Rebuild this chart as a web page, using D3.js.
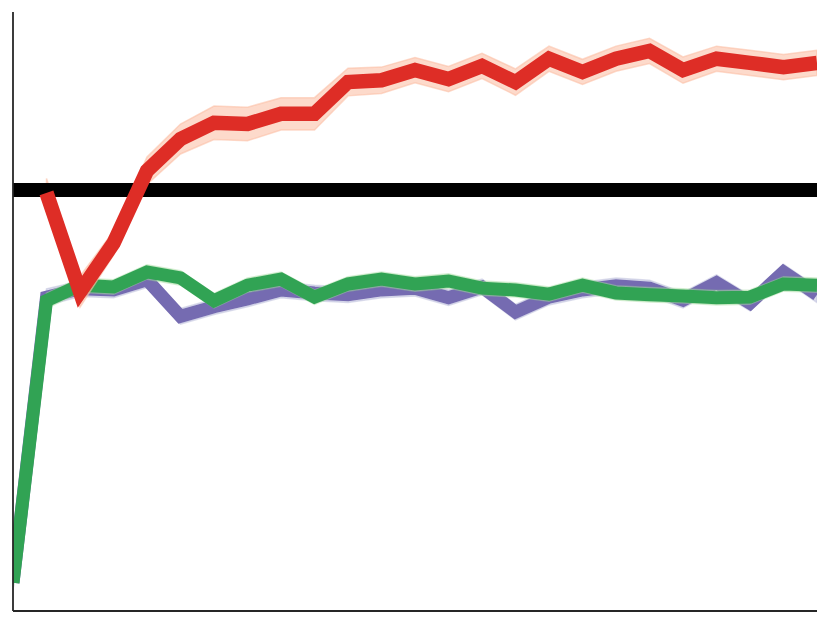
<!DOCTYPE html>
<html>
<head>
<meta charset="utf-8">
<script src="https://cdn.jsdelivr.net/npm/d3@7"></script>
<style>
  html, body { margin: 0; padding: 0; background: #fff; }
  svg { display: block; }
</style>
</head>
<body>
<svg id="chart" width="830" height="625"></svg>
<script>
// ---- data ----
const steps = d3.range(0, 25);
const baseline = 70.3;
const redMean = [null, 69.8, 53.3, 61.4, 73.5, 78.8, 81.5, 81.3, 83.0, 83.0, 88.3, 88.6, 90.3, 88.8, 91.0, 88.3, 92.2, 90.0, 92.2, 93.5, 90.3, 92.2, 91.5, 90.8, 91.5];
const redCI   = [null, 2.4, 2.6, 2.0, 2.3, 2.5, 2.8, 2.8, 2.7, 2.7, 2.3, 2.2, 2.1, 2.1, 2.1, 2.2, 2.1, 2.1, 2.1, 2.1, 2.2, 2.1, 2.1, 2.1, 2.1];
const purpleMean = [4.7, 52.4, 53.8, 53.6, 55.3, 49.2, 50.8, 52.1, 53.6, 53.1, 52.8, 53.6, 53.9, 52.3, 54.1, 49.9, 52.4, 53.6, 54.3, 53.9, 51.9, 54.8, 51.4, 56.6, 52.8];
const purpleCI   = [1.2, 1.4, 1.3, 1.3, 1.3, 1.3, 1.3, 1.3, 1.3, 1.3, 1.3, 1.3, 1.3, 1.3, 1.3, 1.3, 1.3, 1.3, 1.3, 1.3, 1.3, 1.3, 1.3, 1.3, 1.3];
const greenMean = [4.7, 51.8, 54.4, 54.1, 56.6, 55.6, 51.8, 54.4, 55.4, 52.4, 54.6, 55.4, 54.6, 55.1, 53.9, 53.6, 52.9, 54.4, 53.1, 52.8, 52.6, 52.3, 52.4, 54.6, 54.4];
const greenCI   = [1.2, 1.3, 1.2, 1.2, 1.2, 1.2, 1.2, 1.2, 1.2, 1.2, 1.2, 1.2, 1.2, 1.2, 1.2, 1.2, 1.2, 1.2, 1.2, 1.2, 1.2, 1.2, 1.2, 1.2, 1.2];

// ---- layout ----
const svg = d3.select("#chart");
const pLeft = 13, pRight = 817, pTop = 12, pBottom = 611;
const x = d3.scaleLinear().domain([0, 24]).range([pLeft, pRight]);
const y = d3.scaleLinear().domain([0, 100]).range([pBottom, pBottom - 599]);

svg.append("defs").append("clipPath").attr("id", "plotclip")
  .append("rect").attr("x", pLeft).attr("y", pTop).attr("width", pRight - pLeft).attr("height", pBottom - pTop);

const plot = svg.append("g").attr("clip-path", "url(#plotclip)");

function seriesData(mean, ci) {
  return steps.map(i => ({ i, m: mean[i], c: ci[i] })).filter(d => d.m != null);
}

const line = d3.line().x(d => x(d.i)).y(d => y(d.m));
const area = d3.area().x(d => x(d.i)).y0(d => y(d.m - d.c)).y1(d => y(d.m + d.c));

function drawBand(mean, ci, bandColor, bandOpacity) {
  plot.append("path").datum(seriesData(mean, ci)).attr("d", area)
    .attr("fill", bandColor).attr("fill-opacity", bandOpacity)
    .attr("stroke", bandColor).attr("stroke-opacity", bandOpacity).attr("stroke-width", 1.5);
}
function drawLine(mean, ci, color, width) {
  plot.append("path").datum(seriesData(mean, ci)).attr("d", line)
    .attr("fill", "none").attr("stroke", color).attr("stroke-width", width)
    .attr("stroke-linejoin", "miter").attr("stroke-miterlimit", 10).attr("stroke-linecap", "butt");
}

drawBand(purpleMean, purpleCI, "#bcbddc", 0.5);
drawLine(purpleMean, purpleCI, "#756bb1", 13);
drawBand(greenMean, greenCI, "#a1d99b", 0.4);
drawLine(greenMean, greenCI, "#31a354", 13);
drawBand(redMean, redCI, "#fcbba1", 0.55);

// baseline
plot.append("line")
  .attr("x1", x(0)).attr("x2", x(24))
  .attr("y1", y(baseline)).attr("y2", y(baseline))
  .attr("stroke", "#000").attr("stroke-width", 14);

drawLine(redMean, redCI, "#de2d26", 14.5);

// axes (spines only)
const xAxis = d3.axisBottom(x).ticks(0).tickSize(0).tickSizeOuter(0);
const yAxis = d3.axisLeft(y).ticks(0).tickSize(0).tickSizeOuter(0);
const gx = svg.append("g").attr("transform", `translate(0,${pBottom})`).call(xAxis);
const gy = svg.append("g").attr("transform", `translate(${pLeft},0)`).call(yAxis);
[gx, gy].forEach(g => {
  g.selectAll(".domain").attr("stroke", "#262626").attr("stroke-width", 1.8);
  g.selectAll("text").remove();
});
gy.select(".domain").attr("d", `M0,${pTop}V${pBottom}`);
gx.select(".domain").attr("d", `M${pLeft},0H${pRight}`);
</script>
</body>
</html>
